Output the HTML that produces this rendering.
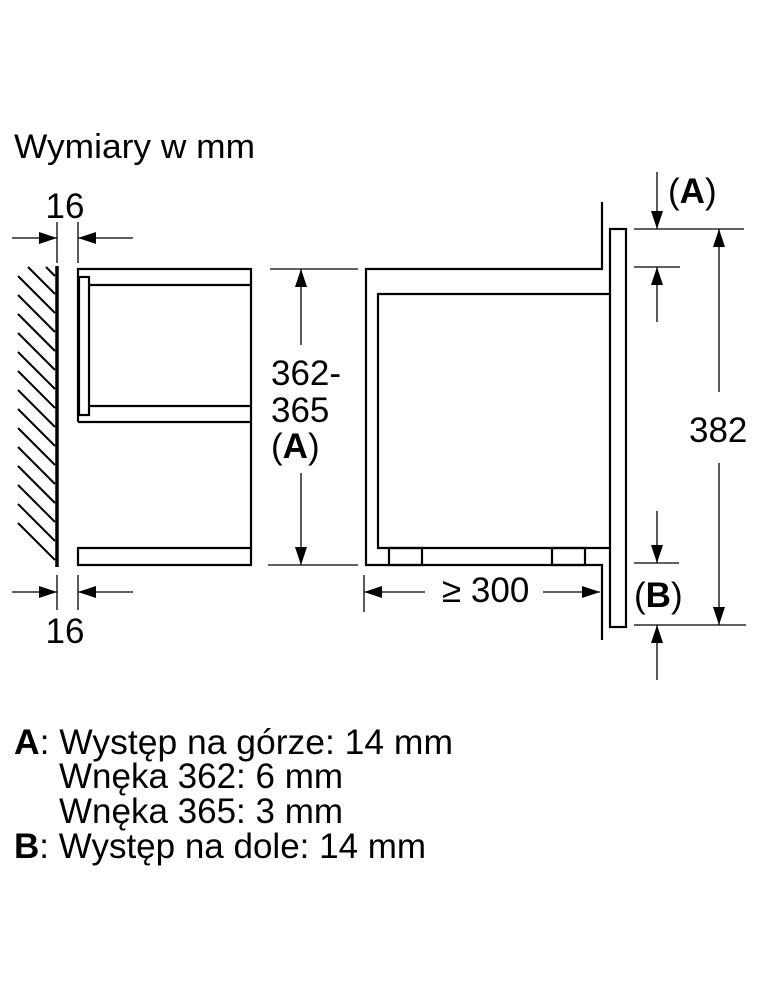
<!DOCTYPE html>
<html><head><meta charset="utf-8"><style>html,body{margin:0;padding:0;background:#fff;}svg{display:block}</style></head>
<body>
<svg width="760" height="1000" viewBox="0 0 760 1000" xmlns="http://www.w3.org/2000/svg" font-family="Liberation Sans, Arial, sans-serif" fill="#000">
<defs>
<marker id="ah" viewBox="0 0 18 12" refX="18" refY="6" markerWidth="18" markerHeight="12" markerUnits="userSpaceOnUse" orient="auto"><path d="M0,0 L18,6 L0,12 Z" fill="#000"/></marker>
</defs>
<text x="14" y="158" font-size="34" textLength="241" lengthAdjust="spacingAndGlyphs">Wymiary w mm</text>

<g stroke="#000" stroke-width="1.3" fill="none">
<line x1="57" y1="266" x2="57" y2="567" stroke-width="3.5"/>
<g stroke-width="2">
<line x1="46" y1="267" x2="55" y2="276"/>
<line x1="28" y1="267" x2="55" y2="294"/>
<line x1="18" y1="276" x2="55" y2="313"/>
<line x1="18" y1="295" x2="55" y2="332"/>
<line x1="18" y1="314" x2="55" y2="351"/>
<line x1="18" y1="333" x2="55" y2="370"/>
<line x1="18" y1="352" x2="55" y2="389"/>
<line x1="18" y1="371" x2="55" y2="408"/>
<line x1="18" y1="390" x2="55" y2="427"/>
<line x1="18" y1="409" x2="55" y2="446"/>
<line x1="18" y1="428" x2="55" y2="465"/>
<line x1="18" y1="447" x2="55" y2="484"/>
<line x1="18" y1="466" x2="55" y2="503"/>
<line x1="18" y1="485" x2="55" y2="522"/>
<line x1="18" y1="504" x2="55" y2="541"/>
<line x1="18" y1="523" x2="55" y2="560"/>
</g>
<g stroke-width="2.2">
<path d="M78,422 L78,269 L251,269 L251,565 L78,565 L78,548 L251,548"/>
<line x1="89" y1="285" x2="251" y2="285"/>
<rect x="79" y="277" width="10" height="138"/>
<line x1="89" y1="406" x2="251" y2="406"/>
<line x1="78" y1="422" x2="251" y2="422"/>
</g>
<line x1="57" y1="222" x2="57" y2="263"/>
<line x1="78" y1="222" x2="78" y2="263"/>
<line x1="12" y1="238" x2="57" y2="238" marker-end="url(#ah)"/>
<line x1="133" y1="238" x2="78" y2="238" marker-end="url(#ah)"/>
<line x1="57" y1="575" x2="57" y2="610"/>
<line x1="78" y1="575" x2="78" y2="610"/>
<line x1="12" y1="592" x2="57" y2="592" marker-end="url(#ah)"/>
<line x1="133" y1="592" x2="78" y2="592" marker-end="url(#ah)"/>
<line x1="270" y1="269" x2="358" y2="269"/>
<line x1="268" y1="565" x2="358" y2="565"/>
<line x1="301" y1="345" x2="301" y2="269" marker-end="url(#ah)"/>
<line x1="301" y1="473" x2="301" y2="565" marker-end="url(#ah)"/>

<g stroke-width="2.2">
<path d="M602,202 L602,269 L366,269 L366,565 L602,565 L602,640"/>
<path d="M609,294 L378,294 L378,548 L609,548"/>
<rect x="389" y="548" width="33" height="17"/>
<rect x="552" y="548" width="33" height="17"/>
<rect x="610" y="229" width="16" height="398"/>
</g>
<line x1="634" y1="229" x2="744" y2="229"/>
<line x1="634" y1="267" x2="680" y2="267"/>
<line x1="634" y1="563" x2="679" y2="563"/>
<line x1="634" y1="625" x2="746" y2="625"/>
<line x1="657" y1="172" x2="657" y2="229" marker-end="url(#ah)"/>
<line x1="657" y1="322" x2="657" y2="267" marker-end="url(#ah)"/>
<line x1="657" y1="511" x2="657" y2="563" marker-end="url(#ah)"/>
<line x1="657" y1="680" x2="657" y2="625" marker-end="url(#ah)"/>
<line x1="719" y1="392" x2="719" y2="229" marker-end="url(#ah)"/>
<line x1="719" y1="463" x2="719" y2="625" marker-end="url(#ah)"/>
<line x1="364" y1="575" x2="364" y2="612"/>
<line x1="425" y1="592" x2="364" y2="592" marker-end="url(#ah)"/>
<line x1="543" y1="592" x2="600" y2="592" marker-end="url(#ah)"/>
</g>

<g font-size="35">
<text x="65" y="218" text-anchor="middle">16</text>
<text x="65" y="643" text-anchor="middle">16</text>
<text x="271" y="385">362-</text>
<text x="271" y="422">365</text>
<text x="271" y="458">(<tspan font-weight="bold">A</tspan>)</text>
<text x="668" y="203">(<tspan font-weight="bold">A</tspan>)</text>
<text x="634" y="607">(<tspan font-weight="bold">B</tspan>)</text>
<text x="689" y="442">382</text>
<text x="442" y="602">≥ 300</text>
</g>

<g font-size="35">
<text x="14" y="754" textLength="439" lengthAdjust="spacingAndGlyphs"><tspan font-weight="bold">A</tspan>: Występ na górze: 14 mm</text>
<text x="59" y="788">Wnęka 362: 6 mm</text>
<text x="59" y="823">Wnęka 365: 3 mm</text>
<text x="14" y="858"><tspan font-weight="bold">B</tspan>: Występ na dole: 14 mm</text>
</g>
</svg>
</body></html>
